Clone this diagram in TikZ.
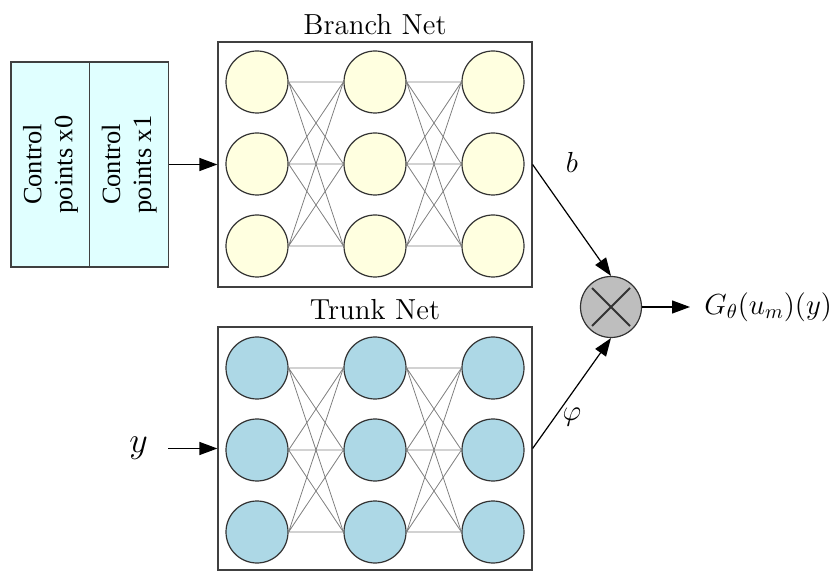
\RequirePackage{fix-cm}
\documentclass[tikz,border=0pt]{standalone}
\usepackage{fontspec}
\newfontfamily\ctrlfont{Liberation Serif}
\usetikzlibrary{arrows.meta}
\definecolor{branchfill}{HTML}{FFFFE0}
\definecolor{trunkfill}{HTML}{ADD8E6}
\definecolor{ctrlfill}{HTML}{E0FFFF}
\definecolor{multfill}{HTML}{BEBEBE}
\tikzset{
	branch node/.style={circle, draw=black!80, line width=0.6pt, inner sep=0, minimum size=31pt, fill=branchfill},
	trunk node/.style={circle, draw=black!80, line width=0.6pt, inner sep=0, minimum size=31pt, fill=trunkfill},
	mult node/.style={circle, draw=black!80, line width=0.6pt, inner sep=0, minimum size=30.5pt, fill=multfill,
		path picture={
			\draw[line width=1pt] ([shift={(-9.5pt,-9.5pt)}]path picture bounding box.center) -- ([shift={(9.5pt,9.5pt)}]path picture bounding box.center);
			\draw[line width=1pt] ([shift={(-9.5pt,9.5pt)}]path picture bounding box.center) -- ([shift={(9.5pt,-9.5pt)}]path picture bounding box.center);
		}},
	net box/.style={draw=black!75, line width=0.6pt, minimum width=157pt},
	ctrl box/.style={draw=black!75, line width=0.6pt, fill=ctrlfill, rotate=90, inner sep=0,
		minimum width=102.5pt, minimum height=39.5pt, align=center, font=\ctrlfont\fontsize{13.2}{15.5}\selectfont},
	link/.style={draw=gray, line width=0.4pt},
	flow/.style={-{Triangle[length=9pt,width=6.5pt]}, line width=0.6pt},
}

\begin{document}
\begin{tikzpicture}[x=0.5pt, y=-0.5pt, font=\fontsize{14.5}{17}\selectfont]
 \useasboundingbox (0,0) rectangle (836,572);

 % the two nets
 \node (branch)[net box, minimum height=122.5pt, label=above:{Branch Net}] at (375,164.5) {};
 \node (trunk)[net box, minimum height=121.5pt, label=above:{Trunk Net}] at (375,448.5) {};

 % branch layers
 \node (b11)[branch node] at (257,82) {};
 \node (b12)[branch node] at (257,164) {};
 \node (b13)[branch node] at (257,246) {};
 \node (b21)[branch node] at (375,82) {};
 \node (b22)[branch node] at (375,164) {};
 \node (b23)[branch node] at (375,246) {};
 \node (b31)[branch node] at (493,82) {};
 \node (b32)[branch node] at (493,164) {};
 \node (b33)[branch node] at (493,246) {};

 % trunk layers
 \node (t11)[trunk node] at (257,368) {};
 \node (t12)[trunk node] at (257,450) {};
 \node (t13)[trunk node] at (257,532) {};
 \node (t21)[trunk node] at (375,368) {};
 \node (t22)[trunk node] at (375,450) {};
 \node (t23)[trunk node] at (375,532) {};
 \node (t31)[trunk node] at (493,368) {};
 \node (t32)[trunk node] at (493,450) {};
 \node (t33)[trunk node] at (493,532) {};

 \draw[link] (b11.east) -- (b21.west) (b11.east) -- (b22.west) (b11.east) -- (b23.west);
 \draw[link] (b12.east) -- (b21.west) (b12.east) -- (b22.west) (b12.east) -- (b23.west);
 \draw[link] (b13.east) -- (b21.west) (b13.east) -- (b22.west) (b13.east) -- (b23.west);
 \draw[link] (b21.east) -- (b31.west) (b21.east) -- (b32.west) (b21.east) -- (b33.west);
 \draw[link] (b22.east) -- (b31.west) (b22.east) -- (b32.west) (b22.east) -- (b33.west);
 \draw[link] (b23.east) -- (b31.west) (b23.east) -- (b32.west) (b23.east) -- (b33.west);
 \draw[link] (t11.east) -- (t21.west) (t11.east) -- (t22.west) (t11.east) -- (t23.west);
 \draw[link] (t12.east) -- (t21.west) (t12.east) -- (t22.west) (t12.east) -- (t23.west);
 \draw[link] (t13.east) -- (t21.west) (t13.east) -- (t22.west) (t13.east) -- (t23.west);
 \draw[link] (t21.east) -- (t31.west) (t21.east) -- (t32.west) (t21.east) -- (t33.west);
 \draw[link] (t22.east) -- (t31.west) (t22.east) -- (t32.west) (t22.east) -- (t33.west);
 \draw[link] (t23.east) -- (t31.west) (t23.east) -- (t32.west) (t23.east) -- (t33.west);

 % inputs
 \node (ctrl0)[ctrl box] at (50.5,164.5) {Control\\points x0};
 \node (ctrl1)[ctrl box] at (129.25,164.5) {Control\\points x1};
 \node (yin)[font=\fontsize{18}{21}\selectfont, inner xsep=10pt] at (138.5,448.5) {$y$};
 \draw[flow] (ctrl1.south) -- (branch.west);
 \draw[flow] (yin.east) -- (trunk.west);

 % product
 \node (mult)[mult node] at (611,307) {};
 \node (gout)[anchor=west, inner xsep=7pt] at (690,307) {$G_\theta(u_m)(y)$};
 \draw[flow] (branch.east) -- (mult.north);
 \draw[flow] (trunk.east) -- (mult.south);
 \draw[flow] (mult.east) -- (gout.west);
 \node (blabel)[anchor=base] at (572,173) {$b$};
 \node (philabel)[anchor=base] at (572,421) {$\varphi$};

\end{tikzpicture}
\end{document}
